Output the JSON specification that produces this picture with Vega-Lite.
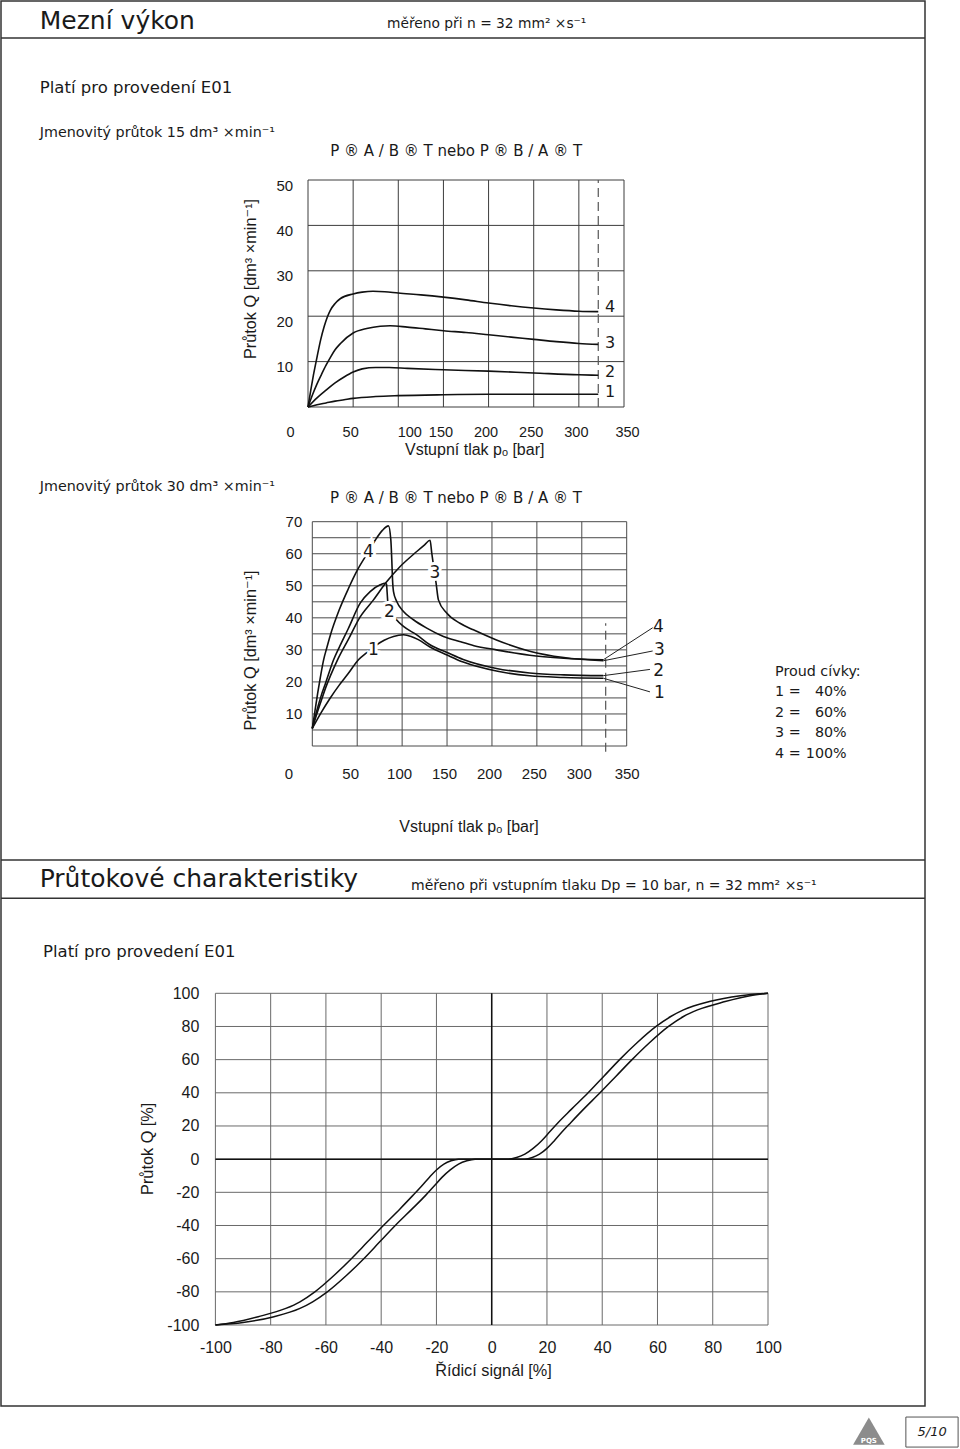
{
"$schema": "https://vega.github.io/schema/vega-lite/v6.json",
"width": 924,
"height": 1405,
"autosize": {"type": "none"},
"padding": {"left": 1, "top": 1, "right": 35, "bottom": 43},
"background": "white",
"config": {
  "view": {"stroke": "#333333", "strokeWidth": 1.5},
  "font": "Liberation Sans",
  "axis": {"grid": false, "domain": false, "ticks": false, "labelFlush": false, "labelOverlap": false, "labelFont": "Liberation Sans", "labelColor": "#1a1a1a", "titleFont": "Liberation Sans, DejaVu Sans", "titleFontWeight": "normal", "titleColor": "#1a1a1a"}
},
"datasets": {
  "gx": [{"v":0},{"v":50},{"v":100},{"v":150},{"v":200},{"v":250},{"v":300},{"v":350}],
  "g1y": [{"v":0},{"v":10},{"v":20},{"v":30},{"v":40},{"v":50}],
  "g2y": [{"v":0},{"v":5},{"v":10},{"v":15},{"v":20},{"v":25},{"v":30},{"v":35},{"v":40},{"v":45},{"v":50},{"v":55},{"v":60},{"v":65},{"v":70}],
  "g3": [{"v":-100},{"v":-80},{"v":-60},{"v":-40},{"v":-20},{"v":0},{"v":20},{"v":40},{"v":60},{"v":80},{"v":100}],
  "c1": [
    {"c":"4","p":0,"q":0},{"c":"4","p":3,"q":3.6},{"c":"4","p":6,"q":7},{"c":"4","p":10,"q":11},{"c":"4","p":14,"q":14.8},{"c":"4","p":18,"q":17.8},{"c":"4","p":24.7,"q":21.3},{"c":"4","p":30,"q":22.8},{"c":"4","p":36,"q":23.9},{"c":"4","p":50,"q":24.9},{"c":"4","p":60,"q":25.3},{"c":"4","p":72,"q":25.5},{"c":"4","p":85,"q":25.4},{"c":"4","p":100,"q":25.1},{"c":"4","p":125,"q":24.7},{"c":"4","p":150,"q":24.2},{"c":"4","p":175,"q":23.6},{"c":"4","p":200,"q":22.9},{"c":"4","p":225,"q":22.3},{"c":"4","p":250,"q":21.8},{"c":"4","p":275,"q":21.4},{"c":"4","p":300,"q":21.1},{"c":"4","p":321.5,"q":21},
    {"c":"3","p":0,"q":0},{"c":"3","p":5,"q":2.7},{"c":"3","p":10,"q":5.1},{"c":"3","p":15,"q":7.2},{"c":"3","p":20,"q":9.2},{"c":"3","p":25,"q":11},{"c":"3","p":30,"q":12.6},{"c":"3","p":36,"q":14},{"c":"3","p":50,"q":16.3},{"c":"3","p":65,"q":17.3},{"c":"3","p":80,"q":17.8},{"c":"3","p":91,"q":17.9},{"c":"3","p":110,"q":17.6},{"c":"3","p":130,"q":17.2},{"c":"3","p":150,"q":16.8},{"c":"3","p":175,"q":16.4},{"c":"3","p":200,"q":15.9},{"c":"3","p":225,"q":15.4},{"c":"3","p":250,"q":14.9},{"c":"3","p":275,"q":14.4},{"c":"3","p":300,"q":14},{"c":"3","p":321.5,"q":13.8},
    {"c":"2","p":0,"q":0},{"c":"2","p":10,"q":2},{"c":"2","p":20,"q":3.7},{"c":"2","p":30,"q":5.3},{"c":"2","p":40,"q":6.6},{"c":"2","p":50,"q":7.7},{"c":"2","p":60,"q":8.4},{"c":"2","p":75,"q":8.7},{"c":"2","p":90,"q":8.7},{"c":"2","p":110,"q":8.5},{"c":"2","p":150,"q":8.2},{"c":"2","p":200,"q":7.9},{"c":"2","p":250,"q":7.5},{"c":"2","p":300,"q":7.1},{"c":"2","p":321.5,"q":7},
    {"c":"1","p":0,"q":0},{"c":"1","p":10,"q":0.5},{"c":"1","p":20,"q":0.9},{"c":"1","p":30,"q":1.3},{"c":"1","p":40,"q":1.6},{"c":"1","p":50,"q":1.9},{"c":"1","p":75,"q":2.3},{"c":"1","p":100,"q":2.5},{"c":"1","p":150,"q":2.7},{"c":"1","p":200,"q":2.8},{"c":"1","p":321.5,"q":2.8}
  ],
  "c2": [
    {"c":"4","p":0,"q":5.5},{"c":"4","p":3,"q":11},{"c":"4","p":6,"q":16.5},{"c":"4","p":9,"q":21.5},{"c":"4","p":12.6,"q":26.9},{"c":"4","p":16,"q":30.5},{"c":"4","p":20,"q":34.5},{"c":"4","p":30,"q":42.5},{"c":"4","p":40,"q":49},{"c":"4","p":50,"q":54.8},{"c":"4","p":62.4,"q":60.6},{"c":"4","p":70,"q":64.2},{"c":"4","p":78,"q":67.3},{"c":"4","p":84.8,"q":68.7},{"c":"4","p":87.4,"q":64.4},{"c":"4","p":88.5,"q":58},{"c":"4","p":89.3,"q":52},{"c":"4","p":90.4,"q":48.2},{"c":"4","p":94,"q":45.1},{"c":"4","p":101.5,"q":42},{"c":"4","p":112.6,"q":39.4},{"c":"4","p":127.4,"q":36.8},{"c":"4","p":146,"q":34.2},{"c":"4","p":164,"q":32.6},{"c":"4","p":180,"q":31.3},{"c":"4","p":205,"q":30},{"c":"4","p":242,"q":28.3},{"c":"4","p":280,"q":27.4},{"c":"4","p":323.9,"q":26.9},
    {"c":"3","p":0,"q":5.5},{"c":"3","p":5,"q":10},{"c":"3","p":10,"q":14.2},{"c":"3","p":15,"q":18.3},{"c":"3","p":20,"q":21.8},{"c":"3","p":28.1,"q":26.9},{"c":"3","p":40,"q":33.2},{"c":"3","p":53.3,"q":40.3},{"c":"3","p":68.1,"q":45.6},{"c":"3","p":83,"q":51.3},{"c":"3","p":97.8,"q":56},{"c":"3","p":116.3,"q":60.7},{"c":"3","p":125,"q":62.8},{"c":"3","p":131.1,"q":64.2},{"c":"3","p":133,"q":60.2},{"c":"3","p":135.6,"q":55},{"c":"3","p":137.8,"q":50.8},{"c":"3","p":140.4,"q":45.6},{"c":"3","p":149.6,"q":41.5},{"c":"3","p":164.4,"q":38.3},{"c":"3","p":179.3,"q":36.25},{"c":"3","p":205,"q":33.1},{"c":"3","p":242,"q":29.6},{"c":"3","p":280,"q":27.6},{"c":"3","p":323.9,"q":26.6},
    {"c":"2","p":0,"q":5.5},{"c":"2","p":5,"q":11},{"c":"2","p":10,"q":15.8},{"c":"2","p":15,"q":19.8},{"c":"2","p":23.7,"q":26.9},{"c":"2","p":30,"q":30.8},{"c":"2","p":40,"q":36.6},{"c":"2","p":53.3,"q":44.6},{"c":"2","p":64.4,"q":48.2},{"c":"2","p":75.6,"q":50.3},{"c":"2","p":81.1,"q":50.8},{"c":"2","p":82.6,"q":50.5},{"c":"2","p":83.3,"q":48},{"c":"2","p":84,"q":45},{"c":"2","p":86,"q":42.2},{"c":"2","p":92.2,"q":39.9},{"c":"2","p":101.5,"q":37.3},{"c":"2","p":116.3,"q":34.7},{"c":"2","p":131,"q":31.6},{"c":"2","p":150,"q":29.2},{"c":"2","p":168,"q":27},{"c":"2","p":205,"q":24.2},{"c":"2","p":242,"q":22.8},{"c":"2","p":280,"q":22.2},{"c":"2","p":323.9,"q":21.95},
    {"c":"1","p":0,"q":5.5},{"c":"1","p":10,"q":10.5},{"c":"1","p":20,"q":15},{"c":"1","p":30,"q":19},{"c":"1","p":40,"q":22.6},{"c":"1","p":51.4,"q":26.9},{"c":"1","p":60,"q":29},{"c":"1","p":67.9,"q":30.6},{"c":"1","p":72,"q":31.6},{"c":"1","p":80,"q":33},{"c":"1","p":90.4,"q":34.2},{"c":"1","p":101.5,"q":34.7},{"c":"1","p":110,"q":34.2},{"c":"1","p":118,"q":33.2},{"c":"1","p":131,"q":30.9},{"c":"1","p":150,"q":28.4},{"c":"1","p":168,"q":26.2},{"c":"1","p":205,"q":23.4},{"c":"1","p":242,"q":21.9},{"c":"1","p":280,"q":21.4},{"c":"1","p":323.9,"q":21.15}
  ],
  "c3": [
    {"c":"A","s":-100,"v":-100},{"c":"A","s":-90,"v":-98.5},{"c":"A","s":-78.8,"v":-95},{"c":"A","s":-69.4,"v":-90},{"c":"A","s":-64.8,"v":-86},{"c":"A","s":-59.5,"v":-80},{"c":"A","s":-52.5,"v":-70},{"c":"A","s":-46.3,"v":-60},{"c":"A","s":-40.6,"v":-50},{"c":"A","s":-34.9,"v":-40},{"c":"A","s":-28.8,"v":-30},{"c":"A","s":-24,"v":-22},{"c":"A","s":-21,"v":-16.5},{"c":"A","s":-18,"v":-11},{"c":"A","s":-15,"v":-6.5},{"c":"A","s":-12,"v":-3},{"c":"A","s":-9,"v":-1},{"c":"A","s":-6,"v":0},{"c":"A","s":0,"v":0},{"c":"A","s":6,"v":0},{"c":"A","s":9,"v":1},{"c":"A","s":12,"v":3},{"c":"A","s":15,"v":6.5},{"c":"A","s":18,"v":11},{"c":"A","s":21,"v":16.5},{"c":"A","s":24,"v":22},{"c":"A","s":28.8,"v":30},{"c":"A","s":34.9,"v":40},{"c":"A","s":40.6,"v":50},{"c":"A","s":46.3,"v":60},{"c":"A","s":52.5,"v":70},{"c":"A","s":59.5,"v":80},{"c":"A","s":64.8,"v":86},{"c":"A","s":69.4,"v":90},{"c":"A","s":78.8,"v":95},{"c":"A","s":90,"v":98.5},{"c":"A","s":100,"v":100},
    {"c":"B","s":-100,"v":-100},{"c":"B","s":-93.5,"v":-98.5},{"c":"B","s":-84.5,"v":-95},{"c":"B","s":-74.5,"v":-90},{"c":"B","s":-69.4,"v":-86},{"c":"B","s":-64,"v":-80},{"c":"B","s":-57,"v":-70},{"c":"B","s":-50.8,"v":-60},{"c":"B","s":-45,"v":-50},{"c":"B","s":-39.2,"v":-40},{"c":"B","s":-33.2,"v":-30},{"c":"B","s":-28.6,"v":-22},{"c":"B","s":-25.5,"v":-16.5},{"c":"B","s":-22.6,"v":-11},{"c":"B","s":-20,"v":-6.5},{"c":"B","s":-17.3,"v":-3},{"c":"B","s":-14.7,"v":-1},{"c":"B","s":-12,"v":0},{"c":"B","s":0,"v":0},{"c":"B","s":12,"v":0},{"c":"B","s":14.7,"v":1},{"c":"B","s":17.3,"v":3},{"c":"B","s":20,"v":6.5},{"c":"B","s":22.6,"v":11},{"c":"B","s":25.5,"v":16.5},{"c":"B","s":28.6,"v":22},{"c":"B","s":33.2,"v":30},{"c":"B","s":39.2,"v":40},{"c":"B","s":45,"v":50},{"c":"B","s":50.8,"v":60},{"c":"B","s":57,"v":70},{"c":"B","s":64,"v":80},{"c":"B","s":69.4,"v":86},{"c":"B","s":74.5,"v":90},{"c":"B","s":84.5,"v":95},{"c":"B","s":93.5,"v":98.5},{"c":"B","s":100,"v":100}
  ]
},
"resolve": {"scale": {"x": "independent", "y": "independent"}, "axis": {"x": "independent", "y": "independent"}},
"layer": [
  {"layer": [
    {"data": {"name": "gx"}, "mark": {"type": "rule", "color": "#3c3c3c", "strokeWidth": 1}, "encoding": {"x": {"field": "v", "type": "quantitative"}, "y": {"datum": 0, "type": "quantitative"}, "y2": {"datum": 50}}},
    {"data": {"name": "g1y"}, "mark": {"type": "rule", "color": "#3c3c3c", "strokeWidth": 1}, "encoding": {"y": {"field": "v", "type": "quantitative"}, "x": {"datum": 0, "type": "quantitative"}, "x2": {"datum": 350}}},
    {"data": {"values": [{"p": 321.5}]}, "mark": {"type": "rule", "color": "#555555", "strokeWidth": 1.2, "strokeDash": [9, 5]}, "encoding": {"x": {"field": "p", "type": "quantitative"}, "y": {"datum": 0, "type": "quantitative"}, "y2": {"datum": 50}}},
    {"data": {"name": "c1"}, "mark": {"type": "line", "interpolate": "monotone", "color": "#111111", "strokeWidth": 1.6},
     "encoding": {
       "x": {"field": "p", "type": "quantitative", "scale": {"domain": [0, 350], "range": [307, 623], "nice": false, "zero": false},
             "axis": {"orient": "bottom", "offset": -999, "values": [0,50,100,150,200,250,300,350], "labelPadding": 18, "labelFontSize": 14.5, "labelOffset": {"condition": [{"test": "datum.value == 0", "value": -18}, {"test": "datum.value == 100", "value": 11}, {"test": "datum.value == 350", "value": 3}], "value": -3}, "title": "Vstupní tlak pₒ [bar]", "titleFontSize": 16, "titleX": 473.2, "titleY": 47.3, "titleBaseline": "alphabetic", "titleAlign": "center", "titleAngle": 0}},
       "y": {"field": "q", "type": "quantitative", "scale": {"domain": [0, 50], "range": [406, 179], "nice": false, "zero": false},
             "axis": {"orient": "left", "offset": -307, "values": [10,20,30,40,50], "labelPadding": 15.3, "labelFontSize": 15, "labelOffset": 5, "title": "Průtok Q [dm³ ×min⁻¹]", "titleFontSize": 16.3, "titleX": -53, "titleY": 277.5, "titleAngle": -90, "titleBaseline": "alphabetic", "titleAlign": "center"}},
       "detail": {"field": "c"}}},
    {"data": {"values": [{"t": "4", "p": 334.5, "q": 22.1}, {"t": "3", "p": 334.5, "q": 14.0}, {"t": "2", "p": 334.5, "q": 7.8}, {"t": "1", "p": 334.5, "q": 3.4}]}, "mark": {"type": "text", "font": "DejaVu Sans", "fontSize": 16, "color": "#1a1a1a", "baseline": "middle", "align": "center"}, "encoding": {"x": {"field": "p", "type": "quantitative"}, "y": {"field": "q", "type": "quantitative"}, "text": {"field": "t"}}},
    {"data": {"values": [{}]}, "mark": {"type": "rule", "color": "#333333", "strokeWidth": 1.5}, "encoding": {"y": {"datum": 81.28, "type": "quantitative"}}},
    {"data": {"values": [{}]}, "mark": {"type": "text", "text": "Mezní výkon", "font": "DejaVu Sans", "fontSize": 25, "align": "left", "baseline": "alphabetic", "color": "#1a1a1a"}, "encoding": {"x": {"datum": -297.06, "type": "quantitative"}, "y": {"datum": 83.19, "type": "quantitative"}}},
    {"data": {"values": [{}]}, "mark": {"type": "text", "text": "měřeno při n =  32 mm² ×s⁻¹", "font": "DejaVu Sans", "fontSize": 13.8, "align": "left", "baseline": "alphabetic", "color": "#1a1a1a"}, "encoding": {"x": {"datum": 87.5, "type": "quantitative"}, "y": {"datum": 83.41, "type": "quantitative"}}},
    {"data": {"values": [{}]}, "mark": {"type": "text", "text": "Platí pro provedení E01", "font": "DejaVu Sans", "fontSize": 16.5, "align": "left", "baseline": "alphabetic", "color": "#1a1a1a"}, "encoding": {"x": {"datum": -297.06, "type": "quantitative"}, "y": {"datum": 69.1, "type": "quantitative"}}},
    {"data": {"values": [{}]}, "mark": {"type": "text", "text": "Jmenovitý průtok 15 dm³ ×min⁻¹", "font": "DejaVu Sans", "fontSize": 14.3, "align": "left", "baseline": "alphabetic", "color": "#1a1a1a"}, "encoding": {"x": {"datum": -297.06, "type": "quantitative"}, "y": {"datum": 59.47, "type": "quantitative"}}},
    {"data": {"values": [{}]}, "mark": {"type": "text", "text": "P ® A / B ® T nebo P ® B / A ® T", "font": "DejaVu Sans", "fontSize": 15, "align": "center", "baseline": "alphabetic", "color": "#1a1a1a"}, "encoding": {"x": {"datum": 164.1, "type": "quantitative"}, "y": {"datum": 55.29, "type": "quantitative"}}}
  ]},
  {"layer": [
    {"data": {"name": "gx"}, "mark": {"type": "rule", "color": "#4a4a4a", "strokeWidth": 1}, "encoding": {"x": {"field": "v", "type": "quantitative"}, "y": {"datum": 0, "type": "quantitative"}, "y2": {"datum": 70}}},
    {"data": {"name": "g2y"}, "mark": {"type": "rule", "color": "#4a4a4a", "strokeWidth": 1}, "encoding": {"y": {"field": "v", "type": "quantitative"}, "x": {"datum": 0, "type": "quantitative"}, "x2": {"datum": 350}}},
    {"data": {"values": [{"p": 326.6}]}, "mark": {"type": "rule", "color": "#555555", "strokeWidth": 1.2, "strokeDash": [9, 5]}, "encoding": {"x": {"field": "p", "type": "quantitative"}, "y": {"datum": -1.8, "type": "quantitative"}, "y2": {"datum": 38.3}}},
    {"data": {"name": "c2"}, "mark": {"type": "line", "interpolate": "monotone", "color": "#111111", "strokeWidth": 1.6},
     "encoding": {
       "x": {"field": "p", "type": "quantitative", "scale": {"domain": [0, 350], "range": [311.3, 625.7], "nice": false, "zero": false},
             "axis": {"orient": "bottom", "offset": -660, "values": [0,50,100,150,200,250,300,350], "labelPadding": 20, "labelFontSize": 15, "labelOffset": {"condition": [{"test": "datum.value == 0", "value": -24}, {"test": "datum.value == 50", "value": -7}, {"test": "datum.value == 350", "value": 0}], "value": -3}, "title": "Vstupní tlak pₒ [bar]", "titleFontSize": 16, "titleX": 467.5, "titleY": 85.7, "titleBaseline": "alphabetic", "titleAlign": "center", "titleAngle": 0}},
       "y": {"field": "q", "type": "quantitative", "scale": {"domain": [0, 70], "range": [745, 520.7], "nice": false, "zero": false},
             "axis": {"orient": "left", "offset": -311.3, "values": [10,20,30,40,50,60,70], "labelPadding": 10.5, "labelFontSize": 15, "title": "Průtok Q [dm³ ×min⁻¹]", "titleFontSize": 16.3, "titleX": -57, "titleY": 649, "titleAngle": -90, "titleBaseline": "alphabetic", "titleAlign": "center"}},
       "detail": {"field": "c"}}},
    {"data": {"values": [{"t": "4", "p": 62.4, "q": 60.6}, {"t": "3", "p": 136.6, "q": 53.9}, {"t": "2", "p": 85.7, "q": 41.9}, {"t": "1", "p": 67.9, "q": 30.0}]}, "mark": {"type": "text", "font": "DejaVu Sans", "fontSize": 17, "fill": "white", "stroke": "white", "strokeWidth": 6, "baseline": "middle", "align": "center"}, "encoding": {"x": {"field": "p", "type": "quantitative"}, "y": {"field": "q", "type": "quantitative"}, "text": {"field": "t"}}},
    {"data": {"values": [{"t": "4", "p": 62.4, "q": 60.6}, {"t": "3", "p": 136.6, "q": 53.9}, {"t": "2", "p": 85.7, "q": 41.9}, {"t": "1", "p": 67.9, "q": 30.0}]}, "mark": {"type": "text", "font": "DejaVu Sans", "fontSize": 17, "color": "#1a1a1a", "baseline": "middle", "align": "center"}, "encoding": {"x": {"field": "p", "type": "quantitative"}, "y": {"field": "q", "type": "quantitative"}, "text": {"field": "t"}}},
    {"data": {"values": [{"p": 323.9, "q": 26.9, "p2": 378.9, "q2": 36.9}, {"p": 323.9, "q": 26.6, "p2": 378.9, "q2": 29.65}, {"p": 323.9, "q": 21.95, "p2": 375.9, "q2": 23.9}, {"p": 323.9, "q": 21.15, "p2": 375.9, "q2": 16.9}]}, "mark": {"type": "rule", "color": "#222222", "strokeWidth": 1}, "encoding": {"x": {"field": "p", "type": "quantitative"}, "y": {"field": "q", "type": "quantitative"}, "x2": {"field": "p2"}, "y2": {"field": "q2"}}},
    {"data": {"values": [{"t": "4", "p": 385.2, "q": 37.2}, {"t": "3", "p": 386.3, "q": 30.0}, {"t": "2", "p": 385.6, "q": 23.5}, {"t": "1", "p": 386.3, "q": 16.6}]}, "mark": {"type": "text", "font": "DejaVu Sans", "fontSize": 17, "color": "#1a1a1a", "baseline": "middle", "align": "center"}, "encoding": {"x": {"field": "p", "type": "quantitative"}, "y": {"field": "q", "type": "quantitative"}, "text": {"field": "t"}}},
    {"data": {"values": [{}]}, "mark": {"type": "text", "text": ["Proud cívky:", "1 =", "2 =", "3 =", "4 ="], "lineHeight": 20.4, "font": "DejaVu Sans", "fontSize": 14.3, "align": "left", "baseline": "alphabetic", "color": "#1a1a1a"}, "encoding": {"x": {"datum": 515.1, "type": "quantitative"}, "y": {"datum": 21.85, "type": "quantitative"}}},
    {"data": {"values": [{}]}, "mark": {"type": "text", "text": ["40%", "60%", "80%", "100%"], "lineHeight": 20.4, "font": "DejaVu Sans", "fontSize": 14.3, "align": "right", "baseline": "alphabetic", "color": "#1a1a1a"}, "encoding": {"x": {"datum": 594.9, "type": "quantitative"}, "y": {"datum": 15.5, "type": "quantitative"}}},
    {"data": {"values": [{}]}, "mark": {"type": "text", "text": "Jmenovitý průtok 30 dm³ ×min⁻¹", "font": "DejaVu Sans", "fontSize": 14.3, "align": "left", "baseline": "alphabetic", "color": "#1a1a1a"}, "encoding": {"x": {"datum": -303.4, "type": "quantitative"}, "y": {"datum": 79.59, "type": "quantitative"}}},
    {"data": {"values": [{}]}, "mark": {"type": "text", "text": "P ® A / B ® T nebo P ® B / A ® T", "font": "DejaVu Sans", "fontSize": 15, "align": "center", "baseline": "alphabetic", "color": "#1a1a1a"}, "encoding": {"x": {"datum": 160.0, "type": "quantitative"}, "y": {"datum": 75.75, "type": "quantitative"}}}
  ]},
  {"layer": [
    {"data": {"name": "g3"}, "mark": {"type": "rule", "color": "#6a6a6a", "strokeWidth": 1}, "encoding": {"x": {"field": "v", "type": "quantitative"}, "y": {"datum": -100, "type": "quantitative"}, "y2": {"datum": 100}}},
    {"data": {"name": "g3"}, "mark": {"type": "rule", "color": "#6a6a6a", "strokeWidth": 1}, "encoding": {"y": {"field": "v", "type": "quantitative"}, "x": {"datum": -100, "type": "quantitative"}, "x2": {"datum": 100}}},
    {"data": {"values": [{}]}, "mark": {"type": "rule", "color": "#111111", "strokeWidth": 1.5}, "encoding": {"x": {"datum": 0, "type": "quantitative"}, "y": {"datum": -100, "type": "quantitative"}, "y2": {"datum": 100}}},
    {"data": {"values": [{}]}, "mark": {"type": "rule", "color": "#111111", "strokeWidth": 1.5}, "encoding": {"y": {"datum": 0, "type": "quantitative"}, "x": {"datum": -100, "type": "quantitative"}, "x2": {"datum": 100}}},
    {"data": {"name": "c3"}, "mark": {"type": "line", "interpolate": "monotone", "color": "#111111", "strokeWidth": 1.5},
     "encoding": {
       "x": {"field": "s", "type": "quantitative", "scale": {"domain": [-100, 100], "range": [214.4, 767], "nice": false, "zero": false},
             "axis": {"orient": "bottom", "offset": -81, "values": [-100,-80,-60,-40,-20,0,20,40,60,80,100], "labelExpr": "(datum.value < 0 ? '-' : '') + abs(datum.value)", "labelPadding": 14, "labelFontSize": 16, "title": "Řídicí signál  [%]", "titleFontSize": 16.3, "titleX": 492, "titleY": 50, "titleBaseline": "alphabetic", "titleAlign": "center", "titleAngle": 0}},
       "y": {"field": "v", "type": "quantitative", "scale": {"domain": [-100, 100], "range": [1324, 992.3], "nice": false, "zero": false},
             "axis": {"orient": "left", "offset": -214.4, "values": [-100,-80,-60,-40,-20,0,20,40,60,80,100], "labelExpr": "(datum.value < 0 ? '-' : '') + abs(datum.value)", "labelPadding": 16.5, "labelFontSize": 16, "title": "Průtok Q [%]", "titleFontSize": 16.3, "titleX": -63, "titleY": 1147.3, "titleAngle": -90, "titleBaseline": "alphabetic", "titleAlign": "center"}},
       "detail": {"field": "c"}}},
    {"data": {"values": [{}]}, "mark": {"type": "rule", "color": "#333333", "strokeWidth": 1.5}, "encoding": {"y": {"datum": 180.4, "type": "quantitative"}}},
    {"data": {"values": [{}]}, "mark": {"type": "rule", "color": "#333333", "strokeWidth": 1.5}, "encoding": {"y": {"datum": 157.3, "type": "quantitative"}}},
    {"data": {"values": [{}]}, "mark": {"type": "text", "text": "Průtokové charakteristiky", "font": "DejaVu Sans", "fontSize": 25, "align": "left", "baseline": "alphabetic", "color": "#1a1a1a"}, "encoding": {"x": {"datum": -163.6, "type": "quantitative"}, "y": {"datum": 163.9, "type": "quantitative"}}},
    {"data": {"values": [{}]}, "mark": {"type": "text", "text": "měřeno při vstupním tlaku Dp =  10 bar, n =  32 mm² ×s⁻¹", "font": "DejaVu Sans", "fontSize": 14, "align": "left", "baseline": "alphabetic", "color": "#1a1a1a"}, "encoding": {"x": {"datum": -29.2, "type": "quantitative"}, "y": {"datum": 162.3, "type": "quantitative"}}},
    {"data": {"values": [{}]}, "mark": {"type": "text", "text": "Platí pro provedení E01", "font": "DejaVu Sans", "fontSize": 16.5, "align": "left", "baseline": "alphabetic", "color": "#1a1a1a"}, "encoding": {"x": {"datum": -162.4, "type": "quantitative"}, "y": {"datum": 122.07, "type": "quantitative"}}},
    {"data": {"values": [{}]}, "mark": {"type": "rect", "fill": "white", "stroke": "#555555", "strokeWidth": 1}, "encoding": {"x": {"datum": 149.9, "type": "quantitative"}, "x2": {"datum": 168.8}, "y": {"datum": -155.5, "type": "quantitative"}, "y2": {"datum": -173.6}}},
    {"data": {"values": [{}]}, "mark": {"type": "text", "text": "5/10", "font": "DejaVu Sans", "fontStyle": "italic", "fontSize": 13, "align": "center", "baseline": "middle", "color": "#1a1a1a"}, "encoding": {"x": {"datum": 159.4, "type": "quantitative"}, "y": {"datum": -164.5, "type": "quantitative"}}},
    {"data": {"values": [{}]}, "mark": {"type": "point", "shape": "triangle-up", "size": 1000, "filled": true, "color": "#8c8c8c", "opacity": 1}, "encoding": {"x": {"datum": 136.5, "type": "quantitative"}, "y": {"datum": -164.0, "type": "quantitative"}}},
    {"data": {"values": [{}]}, "mark": {"type": "text", "text": "PQS", "font": "DejaVu Sans", "fontSize": 7, "fontWeight": "bold", "align": "center", "baseline": "middle", "color": "white"}, "encoding": {"x": {"datum": 136.5, "type": "quantitative"}, "y": {"datum": -170.0, "type": "quantitative"}}}
  ]}
]
}
